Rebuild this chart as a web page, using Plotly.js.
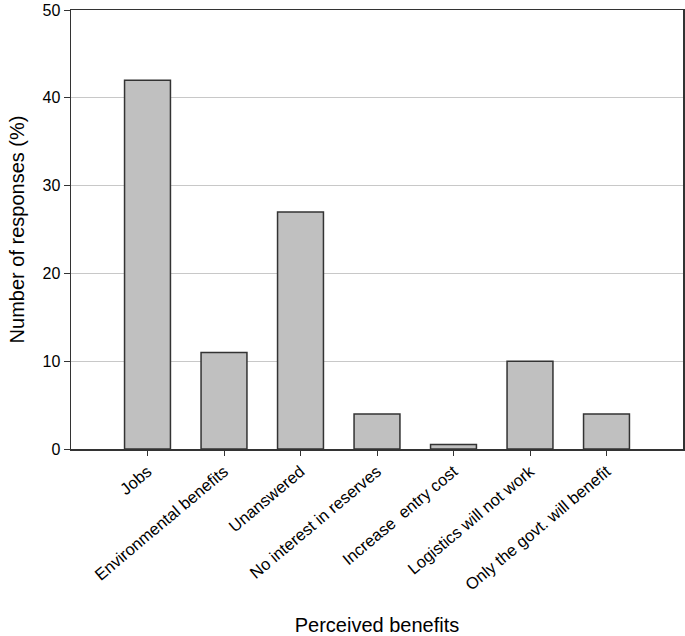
<!DOCTYPE html>
<html>
<head>
<meta charset="utf-8">
<script src="https://cdn.plot.ly/plotly-3.0.1.min.js"></script>
<style>html,body{margin:0;padding:0;background:#fff;}#chart{width:685px;height:636px;}</style>
</head>
<body>
<div id="chart"></div>
<script>
const categories = ["Jobs", "Environmental benefits", "Unanswered", "No interest in reserves", "Increase  entry cost", "Logistics will not work", "Only the govt. will benefit"];
const values = [42, 11, 27, 4, 0.5, 10, 4];
const yTicks = [0, 10, 20, 30, 40, 50];

const trace = {
  type: "bar",
  x: categories.map((c, i) => i),
  y: values,
  width: 0.6,
  marker: {color: "#c0c0c0", line: {color: "#333333", width: 1.5}},
  hoverinfo: "skip"
};

const layout = {
  width: 685, height: 636,
  margin: {l: 71, r: 2, t: 10, b: 187},
  paper_bgcolor: "#ffffff", plot_bgcolor: "#ffffff",
  font: {family: "Liberation Sans, Arial, sans-serif", color: "#000"},
  showlegend: false,
  bargap: 0.4,
  xaxis: {
    range: [-1, 7],
    tickmode: "array",
    tickvals: categories.map((c, i) => i),
    ticktext: categories,
    tickangle: -40,
    ticks: "outside", ticklen: 5, tickcolor: "#333",
    showline: true, linecolor: "#333", linewidth: 1.5, mirror: true,
    showgrid: false, zeroline: false,
    tickfont: {size: 16.5, color: "#000"},
    title: {text: "Perceived benefits", font: {size: 20, color: "#000"}, standoff: 30}
  },
  yaxis: {
    range: [0, 50],
    tickmode: "array",
    tickvals: yTicks,
    ticks: "outside", ticklen: 6, tickcolor: "#333",
    showline: true, linecolor: "#333", linewidth: 1.5, mirror: true,
    showgrid: true, gridcolor: "#c8c8c8", gridwidth: 1,
    zeroline: false,
    tickfont: {size: 16, color: "#000"},
    title: {text: "Number of responses (%)", font: {size: 20, color: "#000"}, standoff: 12}
  }
};

Plotly.newPlot("chart", [trace], layout, {displayModeBar: false, staticPlot: true});
</script>
</body>
</html>
